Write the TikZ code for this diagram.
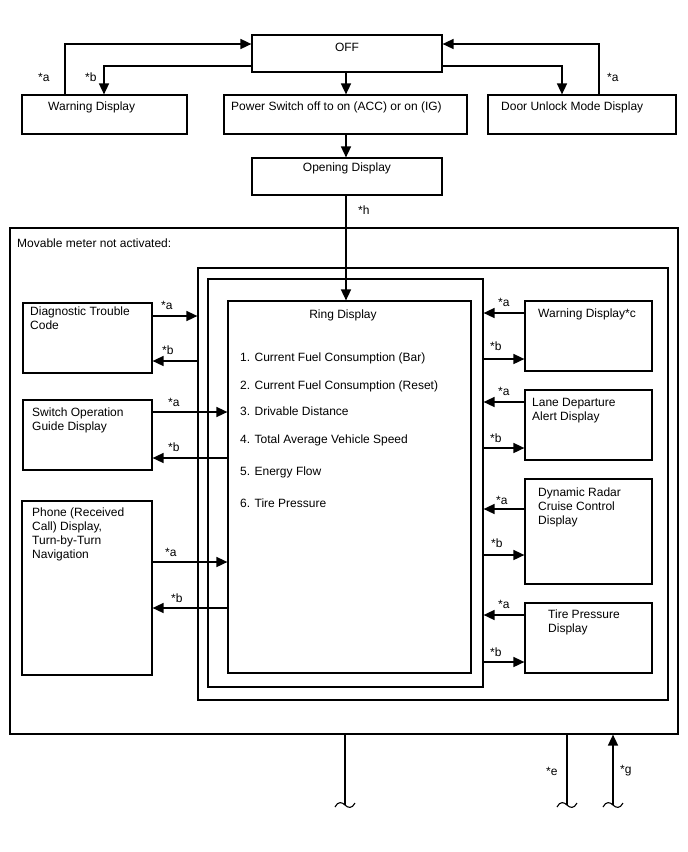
\documentclass[tikz,border=0pt]{standalone}
\usepackage{fontspec}
\setmainfont{Liberation Sans}
\usetikzlibrary{arrows.meta,fit,calc}
\begin{document}
\begin{tikzpicture}[x=1pt,y=-1pt,
  box/.style={draw,line width=1.2pt,inner sep=0pt,fit={#1}},
  txt/.style={inner sep=0pt,font=\fontsize{12}{14}\selectfont,align=left,anchor=north west},
  lab/.style={inner sep=0pt,font=\fontsize{12}{14}\selectfont,anchor=west},
  ln/.style={line width=1.6pt},
  arr/.style={line width=1.6pt,-{Triangle[length=11pt,width=10pt]}},
  tld/.pic={\draw[line width=1.1pt] (-10,2) .. controls (-7,-4) and (-3,-3) .. (0,0) .. controls (3,3) and (7,4) .. (10,-2);}]
\useasboundingbox (0,0) rectangle (688,852);
% top boxes
\node[box={(252,35) (442,72)}] (off) {};
\node[box={(22,95) (187,134)}] (warn) {};
\node[box={(224,95) (467,134)}] (power) {};
\node[box={(488,95) (676,134)}] (door) {};
\node[box={(252,158) (442,195)}] (open) {};
\node[lab,anchor=center] (toff) at (347,47) {OFF};
\node[lab] (twarn) at (48,107) {Warning Display};
\node[lab] (tpower) at (231,107) {Power Switch off to on (ACC) or on (IG)};
\node[lab] (tdoor) at (501,107) {Door Unlock Mode Display};
\node[lab,anchor=center] (topen) at (347,168) {Opening Display};
% main frames
\node[box={(10,228) (678,734)}] (outer) {};
\node[box={(198,268) (668,700)}] (second) {};
\node[box={(208,279) (483,687)}] (third) {};
\node[box={(228,301) (471,673)}] (ring) {};
\node[lab] (tmov) at (17,243) {Movable meter not activated:};
\node[lab,anchor=center] (tring) at (343,315) {Ring Display};
\node[lab] (i1) at (240,358) {1. Current Fuel Consumption (Bar)};
\node[lab] (i2) at (240,386) {2. Current Fuel Consumption (Reset)};
\node[lab] (i3) at (240,411) {3. Drivable Distance};
\node[lab] (i4) at (240,440) {4. Total Average Vehicle Speed};
\node[lab] (i5) at (240,472) {5. Energy Flow};
\node[lab] (i6) at (240,503) {6. Tire Pressure};
% left boxes
\node[box={(23,303) (152,373)}] (diag) {};
\node[box={(23,400) (152,470)}] (sw) {};
\node[box={(22,501) (152,675)}] (phone) {};
\node[txt] (tdiag) at (30,307) {Diagnostic Trouble\\Code};
\node[txt] (tsw) at (32,408) {Switch Operation\\Guide Display};
\node[txt] (tphone) at (32,508) {Phone (Received\\Call) Display,\\Turn-by-Turn\\Navigation};
% right boxes
\node[box={(525,301) (652,371)}] (rwarn) {};
\node[box={(525,390) (652,460)}] (lane) {};
\node[box={(525,479) (652,584)}] (dyn) {};
\node[box={(525,603) (652,673)}] (tire) {};
\node[lab] (trwarn) at (538,314) {Warning Display*c};
\node[txt] (tlane) at (532,398) {Lane Departure\\Alert Display};
\node[txt] (tdyn) at (538,488) {Dynamic Radar\\Cruise Control\\Display};
\node[txt] (ttire) at (548,610) {Tire Pressure\\Display};
% top connectors
\draw[arr] (warn.north -| 65,0) |- (off.west |- 0,44);
\draw[arr] (off.west |- 0,66) -| (warn.north -| 104,0);
\draw[arr] (door.north -| 599,0) |- (off.east |- 0,44);
\draw[arr] (off.east |- 0,66) -| (door.north -| 562,0);
\draw[arr] (off.south -| 346,0) -- (power.north -| 346,0);
\draw[arr] (power.south -| 346,0) -- (open.north -| 346,0);
\draw[arr] (open.south -| 346,0) -- (ring.north -| 346,0);
\node[lab] (la1) at (38,77) {*a};
\node[lab] (lb1) at (85,77) {*b};
\node[lab] (la2) at (607,77) {*a};
\node[lab] (lh) at (358,210) {*h};
% left connectors
\draw[arr] (diag.east |- 0,316) -- (second.west |- 0,316);
\draw[arr] (second.west |- 0,361) -- (diag.east |- 0,361);
\draw[arr] (sw.east |- 0,412) -- (ring.west |- 0,412);
\draw[arr] (ring.west |- 0,458) -- (sw.east |- 0,458);
\draw[arr] (phone.east |- 0,562) -- (ring.west |- 0,562);
\draw[arr] (ring.west |- 0,608) -- (phone.east |- 0,608);
\node[lab] (l1) at (161,305) {*a};
\node[lab] (l2) at (162,350) {*b};
\node[lab] (l3) at (168,402) {*a};
\node[lab] (l4) at (168,447) {*b};
\node[lab] (l5) at (165,552) {*a};
\node[lab] (l6) at (171,598) {*b};
% right connectors
\draw[arr] (rwarn.west |- 0,313) -- (third.east |- 0,313);
\draw[arr] (third.east |- 0,359) -- (rwarn.west |- 0,359);
\draw[arr] (lane.west |- 0,402) -- (third.east |- 0,402);
\draw[arr] (third.east |- 0,448) -- (lane.west |- 0,448);
\draw[arr] (dyn.west |- 0,509) -- (third.east |- 0,509);
\draw[arr] (third.east |- 0,555) -- (dyn.west |- 0,555);
\draw[arr] (tire.west |- 0,615) -- (third.east |- 0,615);
\draw[arr] (third.east |- 0,662) -- (tire.west |- 0,662);
\node[lab] (r1) at (498,302) {*a};
\node[lab] (r2) at (490,346) {*b};
\node[lab] (r3) at (498,391) {*a};
\node[lab] (r4) at (490,438) {*b};
\node[lab] (r5) at (496,500) {*a};
\node[lab] (r6) at (491,543) {*b};
\node[lab] (r7) at (498,604) {*a};
\node[lab] (r8) at (490,652) {*b};
% bottom
\coordinate (e1) at (345,805);
\coordinate (e2) at (567,805);
\coordinate (e3) at (613,805);
\draw[ln] (outer.south -| e1) -- (e1);
\draw[ln] (outer.south -| e2) -- (e2);
\draw[arr] (e3) -- (outer.south -| e3);
\pic at (e1) {tld};
\pic at (e2) {tld};
\pic at (e3) {tld};
\node[lab] (le) at (546,771) {*e};
\node[lab] (lg) at (620,771) {*g};
\end{tikzpicture}
\end{document}
